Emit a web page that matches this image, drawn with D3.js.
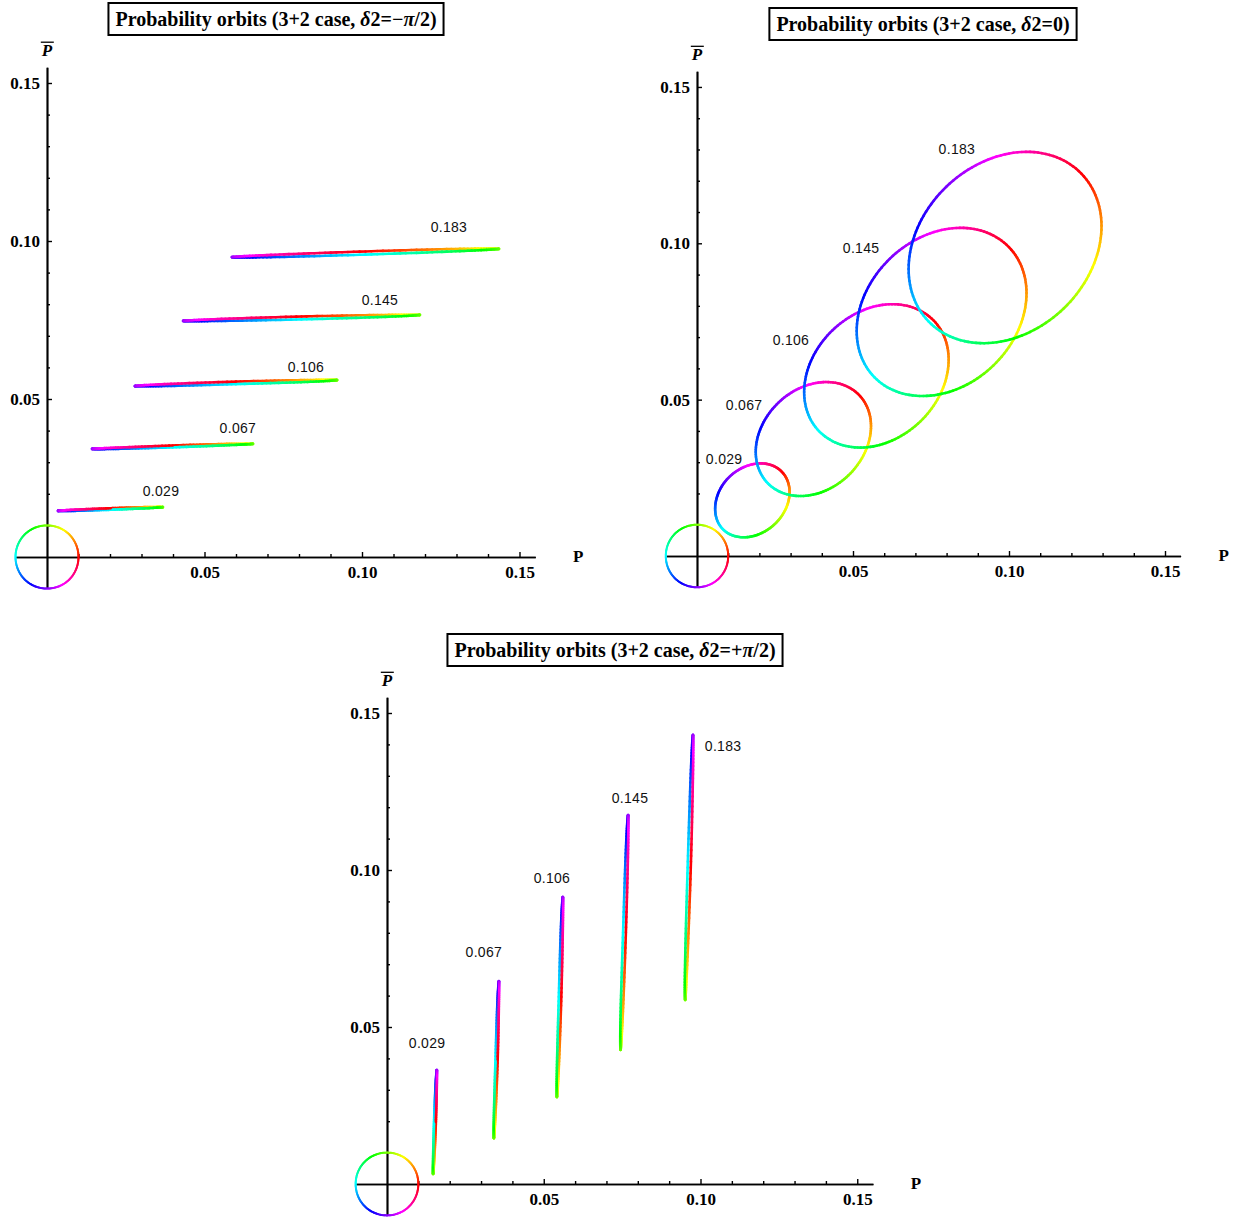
<!DOCTYPE html>
<html>
<head>
<meta charset="utf-8">
<script src="https://cdn.jsdelivr.net/npm/d3@7/dist/d3.min.js"></script>
<style>
  body { margin: 0; background: #fff; }
  .tick text { font-family: "Liberation Serif", "Times New Roman", serif; font-weight: bold; font-size: 17px; fill: #000; }
  .orbit-label { font-family: "Liberation Sans", Arial, sans-serif; font-size: 14px; fill: #111; letter-spacing: 0.3px; }
</style>
</head>
<body>
<svg id="chart" width="1237" height="1219"></svg>
<script>
// labels of the five orbits
const orbitNames = ['0.029', '0.067', '0.106', '0.145', '0.183'];
// phase of each stored point (deg); the colour hue follows the phase
const phases = [0, 45, 90, 135, 180, 225, 270, 315];

// delta2 = -pi/2 : [P, Pbar] at each phase
const orbitsMinus = [
  [[0.0202, 0.01545], [0.0319, 0.0158], [0.0368, 0.0158], [0.0319, 0.01544], [0.0202, 0.01495], [0.0084, 0.0146], [0.0035, 0.0146], [0.0084, 0.01496]],
  [[0.0399, 0.0353], [0.0579, 0.0358], [0.0654, 0.0358], [0.0579, 0.0354], [0.0399, 0.0347], [0.0218, 0.0342], [0.0143, 0.0342], [0.0218, 0.0346]],
  [[0.0600, 0.0555], [0.0827, 0.0560], [0.0921, 0.0560], [0.0827, 0.0554], [0.0600, 0.0547], [0.0373, 0.0541], [0.0279, 0.0541], [0.0373, 0.0547]],
  [[0.0808, 0.0761], [0.1074, 0.0766], [0.1184, 0.0766], [0.1074, 0.0760], [0.0808, 0.0752], [0.0542, 0.0747], [0.0432, 0.0747], [0.0542, 0.0753]],
  [[0.1011, 0.0967], [0.1311, 0.0975], [0.1435, 0.0975], [0.1311, 0.0968], [0.1011, 0.0957], [0.0711, 0.0949], [0.0587, 0.0949], [0.0711, 0.0956]]
];
const labelsMinus = [[0.0362, 0.0209], [0.0606, 0.0408], [0.0822, 0.0601], [0.1057, 0.0813], [0.1276, 0.1044]];

// delta2 = 0
const orbitsZero = [
  [[0.0275, 0.0266], [0.0295, 0.0184], [0.0246, 0.0099], [0.0156, 0.0060], [0.0079, 0.0090], [0.0060, 0.0172], [0.0108, 0.0257], [0.0198, 0.0296]],
  [[0.0524, 0.0510], [0.0555, 0.0384], [0.0479, 0.0252], [0.0341, 0.0192], [0.0222, 0.0238], [0.0191, 0.0364], [0.0267, 0.0496], [0.0405, 0.0556]],
  [[0.0765, 0.0746], [0.0803, 0.0588], [0.0708, 0.0423], [0.0535, 0.0347], [0.0385, 0.0406], [0.0347, 0.0564], [0.0442, 0.0729], [0.0615, 0.0805]],
  [[0.1007, 0.0980], [0.1052, 0.0794], [0.0940, 0.0600], [0.0737, 0.0512], [0.0561, 0.0580], [0.0516, 0.0766], [0.0628, 0.0960], [0.0831, 0.1049]],
  [[0.1240, 0.1214], [0.1292, 0.1003], [0.1165, 0.0782], [0.0934, 0.0681], [0.0734, 0.0759], [0.0683, 0.0971], [0.0810, 0.1191], [0.1041, 0.1292]]
];
const labelsZero = [[0.0087, 0.0310], [0.0151, 0.0483], [0.0301, 0.0691], [0.0526, 0.0985], [0.0833, 0.1302]];

// delta2 = +pi/2
const orbitsPlus = [
  [[0.0156, 0.0198], [0.0151, 0.0081], [0.0147, 0.0032], [0.0147, 0.0081], [0.0150, 0.0198], [0.0155, 0.0314], [0.0159, 0.0363], [0.0159, 0.0314]],
  [[0.0353, 0.0396], [0.0346, 0.0219], [0.0341, 0.0146], [0.0341, 0.0219], [0.0346, 0.0396], [0.0352, 0.0573], [0.0357, 0.0646], [0.0357, 0.0573]],
  [[0.0556, 0.0596], [0.0548, 0.0370], [0.0542, 0.0277], [0.0542, 0.0370], [0.0548, 0.0596], [0.0555, 0.0821], [0.0561, 0.0914], [0.0561, 0.0821]],
  [[0.0762, 0.0801], [0.0752, 0.0537], [0.0745, 0.0427], [0.0745, 0.0537], [0.0753, 0.0801], [0.0762, 0.1065], [0.0769, 0.1175], [0.0769, 0.1065]],
  [[0.0969, 0.1008], [0.0958, 0.0710], [0.0951, 0.0586], [0.0951, 0.0710], [0.0959, 0.1008], [0.0969, 0.1306], [0.0976, 0.1430], [0.0976, 0.1306]]
];
const labelsPlus = [[0.0128, 0.0449], [0.0309, 0.0739], [0.0526, 0.0975], [0.0775, 0.1229], [0.1072, 0.1395]];

// phase key ring around the origin
const ring = [[0.01, 0], [0.0071, 0.0071], [0, 0.01], [-0.0071, 0.0071], [-0.01, 0], [-0.0071, -0.0071], [0, -0.01], [0.0071, -0.0071]];

const majorTicks = [0.05, 0.10, 0.15];
const minorTicks = [0.01, 0.02, 0.03, 0.04, 0.06, 0.07, 0.08, 0.09, 0.11, 0.12, 0.13, 0.14];
const axisDomain = [-0.01, 0.155];

const titleMinus = [['Probability orbits (3+2 case, ', false], ['δ', true], ['2=−', false], ['π', true], ['/2)', false]];
const titleZero = [['Probability orbits (3+2 case, ', false], ['δ', true], ['2=0)', false]];
const titlePlus = [['Probability orbits (3+2 case, ', false], ['δ', true], ['2=+', false], ['π', true], ['/2)', false]];

const panels = [
  { ox: 47, oy: 557, kx: 3150, ky: 3160, title: titleMinus, tx: 276, ty: 19, orbits: orbitsMinus, labels: labelsMinus },
  { ox: 697, oy: 556, kx: 3120, ky: 3127, title: titleZero, tx: 923, ty: 24, orbits: orbitsZero, labels: labelsZero },
  { ox: 387, oy: 1184, kx: 3135, ky: 3140, title: titlePlus, tx: 615, ty: 650, orbits: orbitsPlus, labels: labelsPlus }
];

const svg = d3.select('#chart');

/**
 * Closed cardinal spline through the phase points, stroked in short pieces
 * whose hue follows the phase.
 */
function drawOrbit(g, pts, x, y, width) {
  const px = pts.map(d => [x(d[0]), y(d[1])]);
  const n = px.length;
  const k = 0.1875;
  const steps = 18;
  const step = 360 / n;
  for (let i = 0; i < n; i++) {
    const p0 = px[(i - 1 + n) % n], p1 = px[i], p2 = px[(i + 1) % n], p3 = px[(i + 2) % n];
    const c1 = [p1[0] + (p2[0] - p0[0]) * k, p1[1] + (p2[1] - p0[1]) * k];
    const c2 = [p2[0] - (p3[0] - p1[0]) * k, p2[1] - (p3[1] - p1[1]) * k];
    let prev = p1;
    for (let j = 1; j <= steps; j++) {
      const t = j / steps, u = 1 - t;
      const a = u * u * u, b = 3 * u * u * t, c = 3 * u * t * t, e = t * t * t;
      const cur = [a * p1[0] + b * c1[0] + c * c2[0] + e * p2[0],
                   a * p1[1] + b * c1[1] + c * c2[1] + e * p2[1]];
      const hue = (phases[i] + step * (j - 0.5) / steps) % 360;
      g.append('line')
        .attr('x1', prev[0]).attr('y1', prev[1])
        .attr('x2', cur[0]).attr('y2', cur[1])
        .attr('stroke', d3.hsl(hue, 1, 0.5))
        .attr('stroke-width', width)
        .attr('stroke-linecap', 'round');
      prev = cur;
    }
  }
}

panels.forEach(p => {
  const x = d3.scaleLinear().domain(axisDomain)
    .range([p.ox + axisDomain[0] * p.kx, p.ox + axisDomain[1] * p.kx]);
  const y = d3.scaleLinear().domain(axisDomain)
    .range([p.oy - axisDomain[0] * p.ky, p.oy - axisDomain[1] * p.ky]);

  const g = svg.append('g');

  // Axes (ticks point inward, labels outside)
  const xg = g.append('g').attr('transform', `translate(0, ${y(0)})`);
  xg.append('g').call(d3.axisBottom(x).tickValues(minorTicks).tickSizeInner(-3).tickSizeOuter(0).tickFormat(''));
  xg.append('g').call(d3.axisBottom(x).tickValues(majorTicks).tickSizeInner(-5).tickSizeOuter(0)
    .tickPadding(9).tickFormat(d3.format('.2f')));

  const yg = g.append('g').attr('transform', `translate(${x(0)}, 0)`);
  yg.append('g').call(d3.axisLeft(y).tickValues(minorTicks).tickSizeInner(-3).tickSizeOuter(0).tickFormat(''));
  yg.append('g').call(d3.axisLeft(y).tickValues(majorTicks).tickSizeInner(-5).tickSizeOuter(0)
    .tickPadding(7).tickFormat(d3.format('.2f')));

  g.selectAll('.domain').attr('stroke', '#000').attr('stroke-width', 1.7);
  g.selectAll('.tick line').attr('stroke', '#000').attr('stroke-width', 1.4);

  // Axis names
  g.append('text')
    .attr('x', x(axisDomain[1]) + 43)
    .attr('y', y(0) + 5)
    .attr('text-anchor', 'middle')
    .style('font-family', '"Liberation Serif", serif')
    .style('font-weight', 'bold')
    .style('font-size', '17px')
    .text('P');

  const pbar = g.append('text')
    .attr('x', x(0))
    .attr('y', y(axisDomain[1]) - 11)
    .attr('text-anchor', 'middle')
    .style('font-family', '"Liberation Serif", serif')
    .style('font-weight', 'bold')
    .style('font-style', 'italic')
    .style('font-size', '17px')
    .text('P');
  const pb = pbar.node().getBBox();
  g.append('line')
    .attr('x1', pb.x).attr('x2', pb.x + pb.width + 1)
    .attr('y1', pb.y + 1).attr('y2', pb.y + 1)
    .attr('stroke', '#000').attr('stroke-width', 1.3);

  // Phase key ring
  drawOrbit(g, ring, x, y, 2);

  // Orbits
  p.orbits.forEach(o => drawOrbit(g, o, x, y, 2.6));

  g.selectAll('.orbit-label')
    .data(p.labels)
    .enter()
    .append('text')
    .attr('class', 'orbit-label')
    .attr('x', d => x(d[0]))
    .attr('y', d => y(d[1]))
    .attr('text-anchor', 'middle')
    .attr('dominant-baseline', 'central')
    .text((d, i) => orbitNames[i]);

  // Boxed title
  const title = g.append('text')
    .attr('x', p.tx)
    .attr('y', p.ty)
    .attr('text-anchor', 'middle')
    .attr('dominant-baseline', 'central')
    .style('font-family', '"Liberation Serif", "Times New Roman", serif')
    .style('font-weight', 'bold')
    .style('font-size', '20px');
  p.title.forEach(([t, it]) => {
    title.append('tspan').style('font-style', it ? 'italic' : 'normal').text(t);
  });
  const tb = title.node().getBBox();
  g.append('rect')
    .attr('x', tb.x - 7)
    .attr('y', p.ty - 16)
    .attr('width', tb.width + 14)
    .attr('height', 32)
    .attr('fill', 'none')
    .attr('stroke', '#000')
    .attr('stroke-width', 2);
});
</script>
</body>
</html>
